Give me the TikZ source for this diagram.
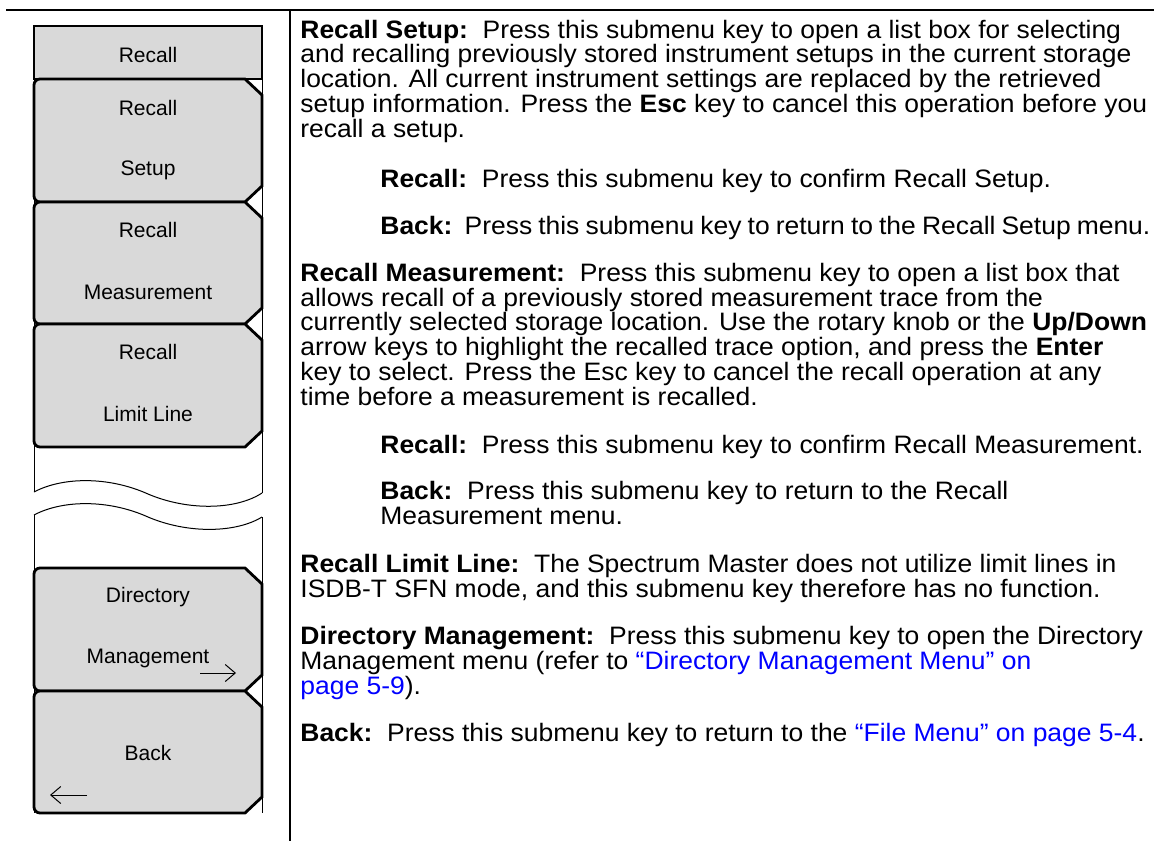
\documentclass[tikz,border=0pt]{standalone}
\usepackage{fontspec}
\setmainfont{Liberation Sans}
\newfontfamily\descfont{Liberation Sans}[FakeStretch=1.05]
\usepackage{xcolor}
\usetikzlibrary{arrows.meta}
\definecolor{keygray}{RGB}{217,217,217}
\definecolor{linkblue}{RGB}{0,0,255}
\tikzset{
  key/.style={draw=black, line width=1.4pt, fill=keygray},
  rim/.style={line width=0.5pt},
  keytext/.style={inner sep=0pt, font=\fontsize{10.5}{12}\selectfont},
  desc/.style={anchor=base west, align=left, inner sep=0pt, font=\descfont\fontsize{12.6}{12.35}\selectfont}
}
% one soft key: top y, bottom y
\newcommand{\menukey}[2]{%
  \draw[key] (148,#1) -- (245,#1) -- (262,#1+16) -- (262,#2-16) -- (245,#2) -- (148,#2)
    [rounded corners=3pt] -- (34,#2) -- (34,#1) -- cycle;}
\begin{document}
\begin{tikzpicture}[x=0.5pt,y=-0.5pt]
		\useasboundingbox (0,0) rectangle (1154,841);
		\draw[line width=1pt] (6,10) -- (1154,10);
		\draw[line width=1pt] (290,10) -- (290,841);

		% menu frame and break
		\draw[rim] (34,26) -- (34,492) (34,515) -- (34,813);
		\draw[rim] (262,26) -- (262,493) (262,517) -- (262,813);
		\draw[rim] (34,492) .. controls (62,477) and (108,476) .. (148,494) .. controls (188,511) and (236,510) .. (262,493);
		\draw[rim] (34,515) .. controls (62,500) and (108,499) .. (148,517) .. controls (188,534) and (236,533) .. (262,517);

		\draw[key] (34,26) rectangle (262,79);
		\node[keytext] (title) at (148,55) {Recall};

		\menukey{79}{202}
		\node[keytext] (setupa) at (148,108) {Recall};
		\node[keytext] (setupb) at (148,170) {Setup};

		\menukey{202}{324}
		\node[keytext] (measa) at (148,230) {Recall};
		\node[keytext] (measb) at (148,292) {Measurement};

		\menukey{324}{447}
		\node[keytext] (limita) at (148,352) {Recall};
		\node[keytext] (limitb) at (148,414) {Limit Line};

		\menukey{568}{691}
		\node[keytext] (dira) at (148,597) {Directory};
		\node[keytext] (dirb) at (148,658) {Management};
		\coordinate (dirtail) at (200,673);
		\coordinate (dirhead) at (236,673);
		\draw[rim,-{Straight Barb[length=5pt,width=8.5pt]}] (dirtail) -- (dirhead);

		\menukey{691}{813}
		\node[keytext] (backkey) at (148,753) {Back};
		\coordinate (backtail) at (87,795);
		\coordinate (backhead) at (50,795);
		\draw[rim,-{Straight Barb[length=5pt,width=8.5pt]}] (backtail) -- (backhead);

		% descriptions (placed by the baseline of their last line)
		\node[desc] (setup) at (300,137) {\textbf{Recall Setup:}\ \ Press this submenu key to open a list box for selecting\\
			and recalling previously stored instrument setups in the current storage\\
			location. All current instrument settings are replaced by the retrieved\\
			setup information. Press the \textbf{Esc} key to cancel this operation before you\\
			recall a setup.};
		\node[desc] (setuprecall) at (380,187) {\textbf{Recall:}\ \ Press this submenu key to confirm Recall Setup.};
		\node[desc] (setupback) at (380,234) {\hbox to 385pt{\textbf{Back:}\ \ Press this submenu key to return to the Recall Setup menu.}};

		\node[desc] (meas) at (300,405) {\textbf{Recall Measurement:}\ \ Press this submenu key to open a list box that\\
			allows recall of a previously stored measurement trace from the\\
			currently selected storage location. Use the rotary knob or the \textbf{Up/Down}\\
			arrow keys to highlight the recalled trace option, and press the \textbf{Enter}\\
			key to select. Press the Esc key to cancel the recall operation at any\\
			time before a measurement is recalled.};
		\node[desc] (measrecall) at (380,453) {\textbf{Recall:}\ \ Press this submenu key to confirm Recall Measurement.};
		\node[desc] (measback) at (380,524) {\textbf{Back:}\ \ Press this submenu key to return to the Recall\\
			Measurement menu.};

		\node[desc] (limit) at (300,597) {\textbf{Recall Limit Line:}\ \ The Spectrum Master does not utilize limit lines in\\
			ISDB-T SFN mode, and this submenu key therefore has no function.};

		\node[desc] (dir) at (300,694) {\textbf{Directory Management:}\ \ Press this submenu key to open the Directory\\
			Management menu (refer to \textcolor{linkblue}{“Directory Management Menu” on}\\
			\textcolor{linkblue}{page 5-9}).};

		\node[desc] (back) at (300,741) {\textbf{Back:}\ \ Press this submenu key to return to the \textcolor{linkblue}{“File Menu” on page 5-4}.};

	\end{tikzpicture}
\end{document}
